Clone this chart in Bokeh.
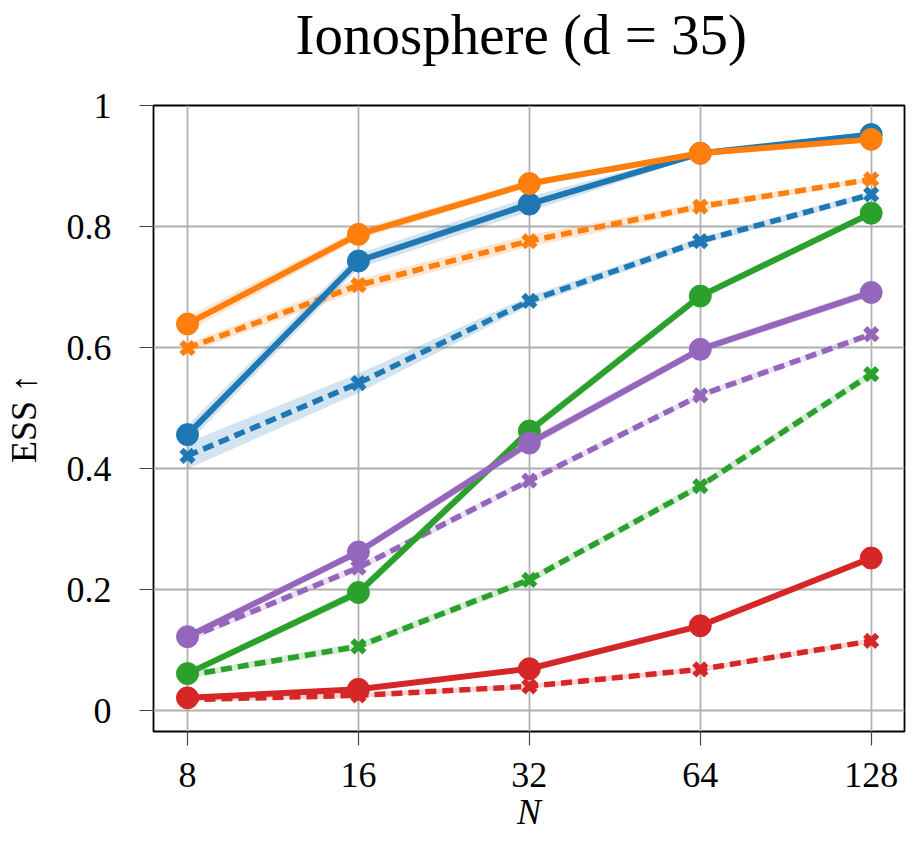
from bokeh.plotting import figure
from bokeh.models import Range1d, FixedTicker, PrintfTickFormatter, Title
from bokeh.embed import file_html
from bokeh.resources import INLINE

N = [8, 16, 32, 64, 128]

# solid (circle) and dashed (x) series per colour
blue_solid = [0.456, 0.743, 0.837, 0.921, 0.952]
blue_solid_err = [0.015, 0.012, 0.012, 0.004, 0.004]
blue_dash = [0.421, 0.541, 0.677, 0.776, 0.853]
blue_dash_err = [0.022, 0.016, 0.008, 0.006, 0.005]

orange_solid = [0.639, 0.787, 0.871, 0.921, 0.944]
orange_solid_err = [0.012, 0.008, 0.006, 0.003, 0.004]
orange_dash = [0.599, 0.703, 0.776, 0.833, 0.878]
orange_dash_err = [0.008, 0.010, 0.010, 0.006, 0.004]

green_solid = [0.061, 0.195, 0.462, 0.685, 0.822]
green_solid_err = [0.004, 0.008, 0.008, 0.006, 0.005]
green_dash = [0.058, 0.106, 0.216, 0.371, 0.556]
green_dash_err = [0.005, 0.006, 0.006, 0.006, 0.007]

red_solid = [0.021, 0.035, 0.069, 0.140, 0.252]
red_solid_err = [0.003, 0.004, 0.004, 0.004, 0.006]
red_dash = [0.018, 0.025, 0.040, 0.068, 0.115]
red_dash_err = [0.003, 0.004, 0.004, 0.004, 0.004]

purple_solid = [0.122, 0.262, 0.442, 0.597, 0.691]
purple_solid_err = [0.006, 0.006, 0.008, 0.006, 0.007]
purple_dash = [0.119, 0.236, 0.380, 0.521, 0.622]
purple_dash_err = [0.005, 0.006, 0.005, 0.005, 0.005]

x_ticks = [8, 16, 32, 64, 128]
y_ticks = [0, 0.2, 0.4, 0.6, 0.8, 1.0]
title_text = "Ionosphere (d = 35)"

BLUE, ORANGE, GREEN, RED, PURPLE = "#1f77b4", "#ff7f0e", "#2ca02c", "#d62728", "#9467bd"
FONT = "Liberation Serif"

p = figure(width=906, height=842, x_axis_type="log", title=None,
           x_range=Range1d(6.97, 146.5), y_range=Range1d(-0.0347, 1.0),
           output_backend="svg", toolbar_location=None,
           min_border_left=152, min_border_right=2, min_border_top=104, min_border_bottom=111)

# spacer between frame and title, then the title itself (outer)
p.add_layout(Title(text=" ", text_font_size="1px", standoff=37), "above")
p.add_layout(Title(text=title_text, text_font=FONT, text_font_size="57px",
                   text_font_style="normal", text_color="black",
                   align="left", offset=142, standoff=0), "above")

p.outline_line_color = "black"
p.outline_line_width = 1.8
p.background_fill_color = "white"
p.border_fill_color = "white"

for g in (p.xgrid, p.ygrid):
    g.grid_line_color = "#b0b0b0"
    g.grid_line_width = 1.8

p.xaxis.ticker = FixedTicker(ticks=x_ticks, minor_ticks=[])
p.xaxis.formatter = PrintfTickFormatter(format="%d")
p.yaxis.ticker = FixedTicker(ticks=y_ticks, minor_ticks=[])
p.yaxis.formatter = PrintfTickFormatter(format="%g")

for ax in (p.xaxis, p.yaxis):
    ax.axis_line_color = None
    ax.major_tick_out = 14
    ax.major_tick_in = 0
    ax.major_tick_line_color = "#444444"
    ax.major_tick_line_width = 1.2
    ax.minor_tick_line_color = None
    ax.major_label_text_font = FONT
    ax.major_label_text_font_size = "36px"
    ax.major_label_text_color = "black"
    ax.axis_label_text_font = FONT
    ax.axis_label_text_font_size = "36px"
    ax.axis_label_text_color = "black"

p.xaxis.axis_label = "N"
p.xaxis.axis_label_text_font_style = "italic"
p.xaxis.major_label_standoff = 17
p.xaxis.axis_label_standoff = 2
p.yaxis.axis_label = "ESS ↑"
p.yaxis.axis_label_text_font_style = "normal"
p.yaxis.major_label_standoff = 28
p.yaxis.axis_label_standoff = 20

series = [
    (BLUE, blue_solid, blue_solid_err, blue_dash, blue_dash_err),
    (ORANGE, orange_solid, orange_solid_err, orange_dash, orange_dash_err),
    (GREEN, green_solid, green_solid_err, green_dash, green_dash_err),
    (RED, red_solid, red_solid_err, red_dash, red_dash_err),
    (PURPLE, purple_solid, purple_solid_err, purple_dash, purple_dash_err),
]

def band(color, ys, err):
    lo = [y - e for y, e in zip(ys, err)]
    hi = [y + e for y, e in zip(ys, err)]
    p.varea(x=N, y1=lo, y2=hi, fill_color=color, fill_alpha=0.2)

# bands first
for color, s, se, d, de in series:
    band(color, d, de)
    band(color, s, se)

# dashed series
for color, s, se, d, de in series:
    p.line(N, d, line_color=color, line_width=5.5, line_dash="11 6")
    p.scatter(N, d, marker="x", size=17, line_color=color, line_width=6)

# solid series
for color, s, se, d, de in series:
    p.line(N, s, line_color=color, line_width=6)
    p.scatter(N, s, marker="circle", size=22, fill_color=color, line_color=color)

open("out.html", "w").write(file_html(p, INLINE))
